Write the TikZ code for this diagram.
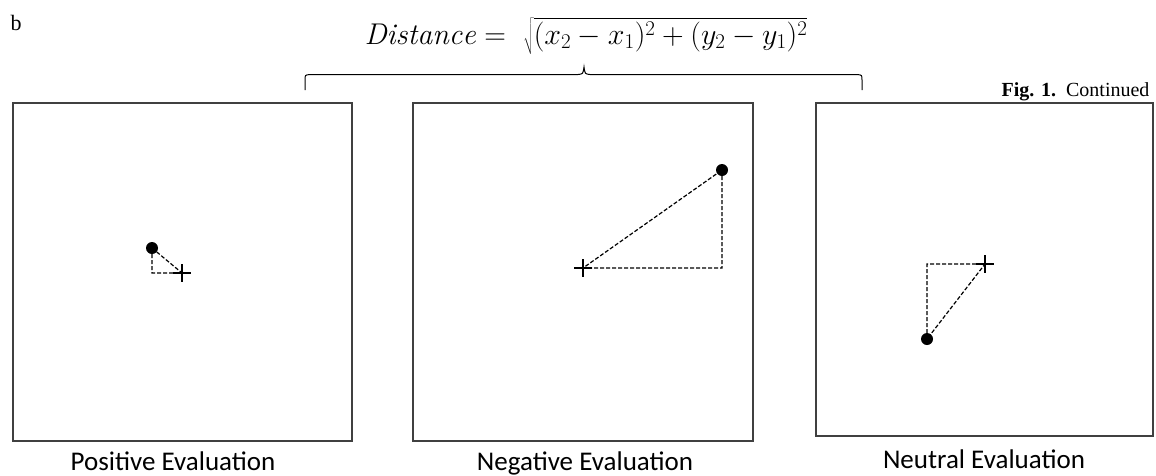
\RequirePackage{fix-cm}
\documentclass[tikz,border=0pt]{standalone}
\usepackage{fontspec}
\newfontfamily\labelfont{Carlito}
\newfontfamily\serifont{Liberation Serif}
\usetikzlibrary{positioning, shapes.misc}

\begin{document}
\begin{tikzpicture}[x=1pt, y=-1pt,
    panel/.style={draw=black!75, line width=1.5pt, inner sep=0pt,
      minimum width=340pt, minimum height=338pt},
    caption/.style={font=\labelfont\fontsize{27}{32}\selectfont, anchor=base},
    dot/.style={circle, fill=black, minimum size=12pt, inner sep=0pt},
    cross/.style={cross out, draw=black, line width=2.2pt, minimum size=10pt,
      inner sep=0pt, rotate=45},
    gap/.style={dash pattern=on 4pt off 2pt, line width=1.2pt},
  ]
  \useasboundingbox (0,0) rectangle (1156,475);

  % labels above the panels
  \node[font=\serifont\fontsize{22}{26}\selectfont, anchor=base] (tag) at (16,30) {b};
  \node[font=\fontsize{30}{36}\selectfont, anchor=base] (formula) at (586,44)
    {$\mathit{Distance} =\ \sqrt{(x_2 - x_1)^2 + (y_2 - y_1)^2}$};
  \node[font=\serifont\fontsize{20}{24}\selectfont, anchor=base east] (fig) at (1153,96)
    {\textbf{Fig. 1.}\ \ Continued};

  % brace under the formula
  \draw[line width=1pt] (305,90) -- (305,80) .. controls (305,75) .. (310,74.5)
    -- (578,74.5) .. controls (583,74) .. (584,67) .. controls (585,74) .. (590,74.5)
    -- (857,74.5) .. controls (862,75) .. (862,80) -- (862,90);

  % panels
  \node[panel, minimum width=339pt] (p1) at (182.5,272) {};
  \node[panel] (p2) at (583,272) {};
  \node[panel, minimum width=337pt, minimum height=333pt] (p3) at (984.5,269.5) {};

  \node[caption] (c1) at (173,470) {Positive Evaluation};
  \node[caption] (c2) at (585,470) {Negative Evaluation};
  \node[caption] (c3) at (984,468) {Neutral Evaluation};

  % positive
  \node[dot] (d1) at (152,248) {};
  \node[cross] (x1) at (182,273) {};
  \coordinate (k1) at (d1 |- x1);
  \draw[gap] (d1.center) -- (k1) -- (x1.center) -- cycle;

  % negative
  \node[dot] (d2) at (722,170) {};
  \node[cross] (x2) at (583,268) {};
  \coordinate (k2) at (d2 |- x2);
  \draw[gap] (d2.center) -- (k2) -- (x2.center) -- cycle;

  % neutral
  \node[dot] (d3) at (927,339) {};
  \node[cross] (x3) at (985,264) {};
  \coordinate (k3) at (d3 |- x3);
  \draw[gap] (d3.center) -- (k3) -- (x3.center) -- cycle;
\end{tikzpicture}
\end{document}
